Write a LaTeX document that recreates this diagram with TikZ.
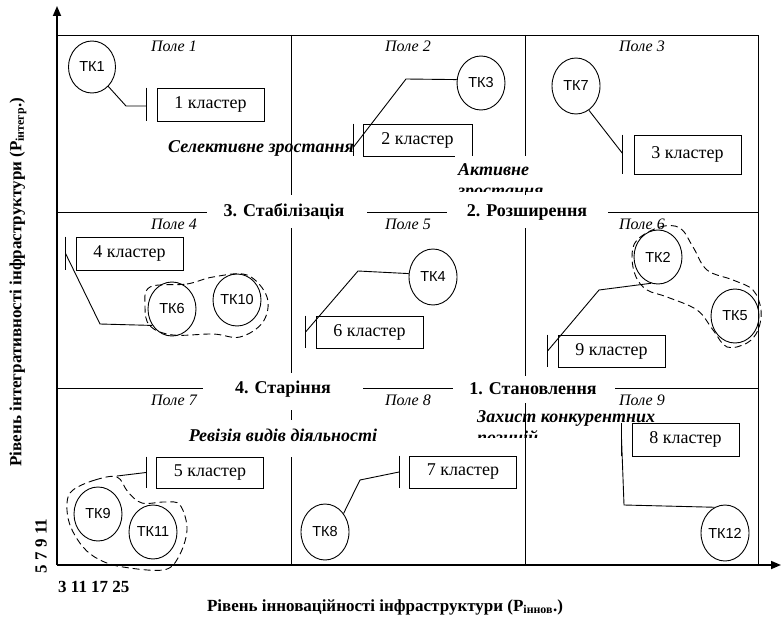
\documentclass[tikz,border=0pt]{standalone}
\usepackage{fontspec}
\setmainfont{Liberation Serif}
\newfontfamily\arialf{Liberation Sans}
\usetikzlibrary{shapes.geometric,arrows.meta}
\tikzset{
 tk/.style={draw,ellipse,minimum width=48pt,minimum height=54pt,inner sep=0pt,line width=0.9pt,font=\arialf\fontsize{14.5}{16}\selectfont},
 cbox/.style={draw,rectangle,minimum width=107pt,minimum height=32pt,inner sep=0pt,line width=0.9pt,font=\fontsize{18}{20}\selectfont},
 pole/.style={font=\itshape\fontsize{16}{18}\selectfont,inner sep=0pt},
 phase/.style={font=\bfseries\fontsize{18}{20}\selectfont,inner sep=0pt},
 strat/.style={font=\bfseries\itshape\fontsize{18}{21}\selectfont,inner sep=0pt,align=left},
 axlab/.style={font=\bfseries\fontsize{17}{20}\selectfont,inner sep=0pt},
 gridl/.style={line width=0.9pt},
 axisl/.style={line width=1.7pt,-{Triangle[length=10pt,width=8pt]}},
 conn/.style={line width=0.9pt},
 barl/.style={line width=0.9pt},
 blob/.style={line width=0.9pt,dash pattern=on 7pt off 4pt},
}
\begin{document}
\begin{tikzpicture}[x=1pt,y=-1pt]
\useasboundingbox (0,0) rectangle (781,623);
% grid
\draw[gridl] (57,35) -- (758,35) -- (758,565);
\draw[gridl] (57,212) -- (207,212) (367,212) -- (447,212) (608,212) -- (758,212);
\draw[gridl] (57,388) -- (203,388) (363,388) -- (453,388) (615,388) -- (758,388);
\draw[gridl] (291,35) -- (291,195) (291,228) -- (291,373) (291,410) -- (291,420) (291,457) -- (291,565);
\draw[gridl] (525,35) -- (525,195) (525,228) -- (525,376) (525,403) -- (525,565);
% axes
\draw[axisl] (57,565) -- (57,6);
\draw[axisl] (57,565) -- (781,565);
% field labels
\node[pole] (p1) at (174,46) {Поле 1};
\node[pole] (p2) at (408,46) {Поле 2};
\node[pole] (p3) at (642,46) {Поле 3};
\node[pole] (p4) at (174,224) {Поле 4};
\node[pole] (p5) at (408,224) {Поле 5};
\node[pole] (p6) at (642,224) {Поле 6};
\node[pole] (p7) at (174,400) {Поле 7};
\node[pole] (p8) at (408,400) {Поле 8};
\node[pole] (p9) at (642,400) {Поле 9};
% TK circles
\node[tk,minimum height=52pt,minimum width=47pt] (t1) at (92,67) {ТК1};
\node[tk] (t3) at (481,83) {ТК3};
\node[tk,minimum height=56pt] (t7) at (576,86) {ТК7};
\node[tk] (t6) at (172,309) {ТК6};
\node[tk,minimum height=52pt] (t10) at (237,300) {ТК10};
\node[tk,minimum height=56pt] (t4) at (433,277) {ТК4};
\node[tk] (t2) at (658,257) {ТК2};
\node[tk] (t5) at (735,316) {ТК5};
\node[tk] (t9) at (98,514) {ТК9};
\node[tk] (t11) at (153,532) {ТК11};
\node[tk,minimum height=56pt] (t8) at (325,532) {ТК8};
\node[tk,minimum height=56pt] (t12) at (725,533) {ТК12};
% cluster boxes
\node[cbox,minimum height=33pt] (b1) at (210.5,104.5) {1 кластер};
\node[cbox,minimum width=109pt] (b2) at (417.5,140) {2 кластер};
\node[cbox,minimum height=39pt] (b3) at (687.5,154.5) {3 кластер};
\node[cbox,minimum height=33pt] (b4) at (129.5,253.5) {4 кластер};
\node[cbox] (b6) at (369.5,332) {6 кластер};
\node[cbox] (b9) at (611.5,351) {9 кластер};
\node[cbox,minimum height=31pt] (b5) at (210,472.5) {5 кластер};
\node[cbox] (b7) at (463,472) {7 кластер};
\node[cbox,minimum height=33pt] (b8) at (685.5,439.5) {8 кластер};
% bars
\foreach \b/\s in {b1/10,b2/9,b3/11,b4/10,b6/10,b9/10,b5/10,b7/10,b8/10}{
  \draw[barl] ([xshift=-\s pt]\b.north west) -- ([xshift=-\s pt]\b.south west);
}
% connectors
\draw[conn] (t1.-50) -- (126,106) -- ([xshift=-10pt,yshift=-1.5pt]b1.west);
\draw[conn] (t3.172) -- (406,79) -- ([xshift=-9pt,yshift=-7pt]b2.west);
\draw[conn] (t7.-62) -- ([xshift=-11pt,yshift=1pt]b3.west);
\draw[conn] ([xshift=-10pt]b4.west) -- (100,324) -- (t6.-140);
\draw[conn] (t4.172) -- (358,271) -- ([xshift=-10pt]b6.west);
\draw[conn] (t2.-105) -- (599,290) -- ([xshift=-10pt]b9.west);
\coordinate (e5) at (117,476);
\draw[conn] ([xshift=-10pt]b5.west) -- (e5);
\draw[conn] ([xshift=-10pt]b7.west) -- (360,480) -- (t8.45);
\draw[conn] ([xshift=-10pt]b8.west) -- (624,505) -- (t12.112);
% dashed groups
\draw[blob] plot[smooth cycle,tension=0.6] coordinates {(150,287) (187,284) (213,277) (247,275) (267,297) (263,322) (240,337) (213,334) (173,335) (150,326) (145,307)};
\draw[blob] plot[smooth cycle,tension=0.6] coordinates {(637,240) (660,227) (680,228) (693,247) (707,270) (733,280) (753,290) (761,310) (758,330) (747,343) (727,347) (713,330) (697,310) (667,297) (647,290) (636,277) (632,257)};
\draw[blob] plot[smooth cycle,tension=0.6] coordinates {(73,490) (95,480) (117,477) (128,492) (142,503) (165,502) (180,505) (187,530) (178,558) (163,570) (123,567) (100,560) (83,547) (70,525) (67,503)};
% strategy texts
\node[strat,anchor=west] (s1) at (168,148) {Селективне зростання};
\fill[white] (455,155.5) rectangle (552,191);
\begin{scope}
\clip (455,155.5) rectangle (552,191);
\node[strat,anchor=north west] (s2) at (458,163) {Активне\\зростання};
\end{scope}
\node[strat] (s3) at (283,435) {Ревізія видів діяльності};
\begin{scope}
\clip (470,400) rectangle (680,437);
\node[strat,anchor=north west] (s4) at (477,410) {Захист конкурентних\\позицій};
\end{scope}
% phases
\node[phase] (f3) at (284,212) {3. Стабілізація};
\node[phase] (f2) at (527,212) {2. Розширення};
\node[phase] (f4) at (283,389) {4. Старіння};
\node[phase] (f1) at (533,389) {1. Становлення};
% axis labels
\node[axlab,rotate=90] (ly) at (18,282) {Рівень інтегративності інфраструктури (P\textsubscript{інтегр}.)};
\node[axlab,rotate=90] (ny) at (41,546) {5 7 9 11};
\node[axlab,anchor=west] (nx) at (58,587) {3 11 17 25};
\node[axlab] (lx) at (385,607) {Рівень інноваційності інфраструктури (P\textsubscript{іннов}.)};
\end{tikzpicture}
\end{document}
